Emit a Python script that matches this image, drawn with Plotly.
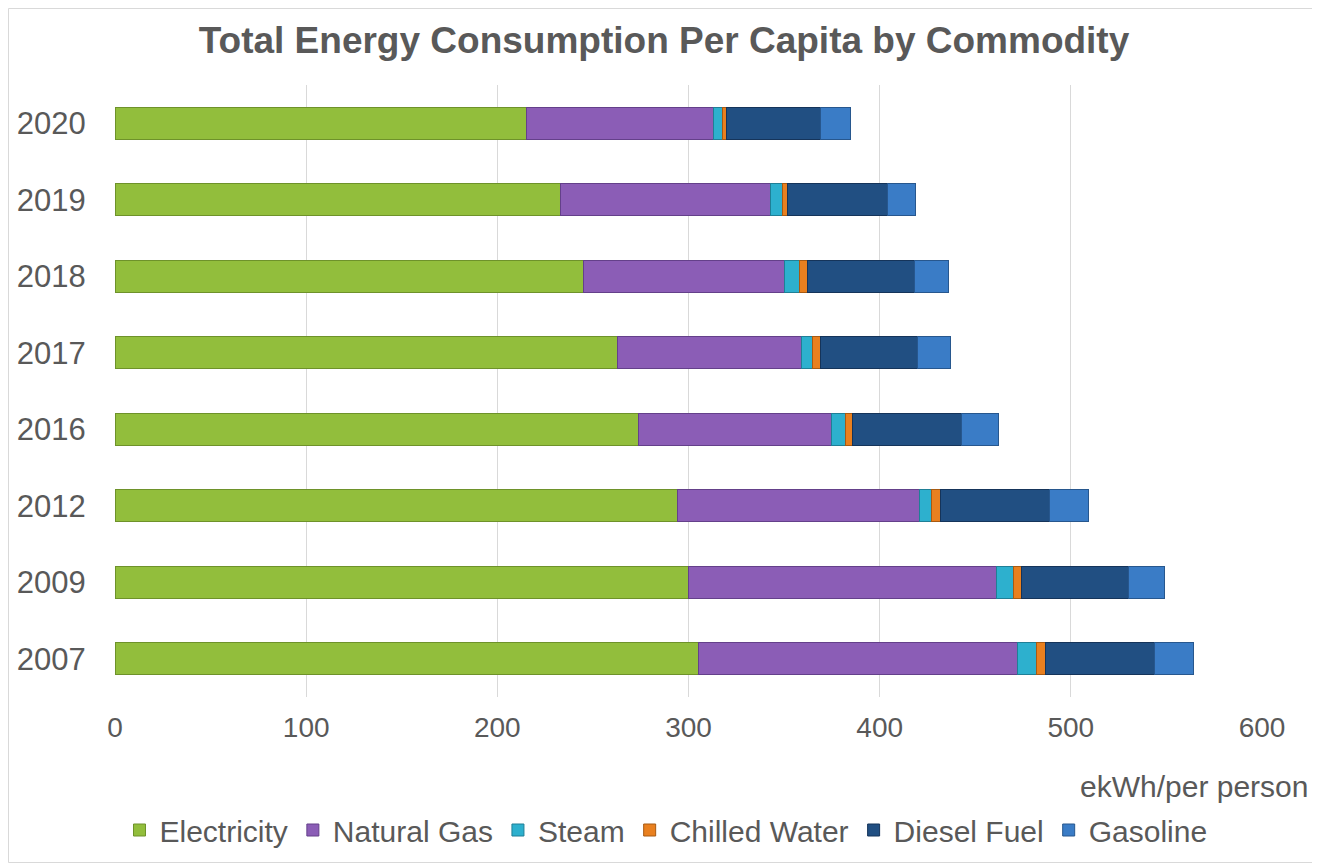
import plotly.graph_objects as go

years = ["2007", "2009", "2012", "2016", "2017", "2018", "2019", "2020"]
electricity = [305, 300, 294, 274, 263, 245, 233, 215]
natural_gas = [167, 161, 127, 101, 96, 105, 110, 98]
steam = [10, 9, 6, 7, 6, 8, 6, 5]
chilled_water = [5, 4, 5, 4, 4, 4, 3, 2]
diesel_fuel = [57, 56, 57, 57, 51, 56, 52, 49]
gasoline = [20, 19, 20, 19, 17, 18, 15, 16]

series = [
    ("Electricity", electricity, "#92BE3C", "#6E922A"),
    ("Natural Gas", natural_gas, "#8B5DB6", "#64408A"),
    ("Steam", steam, "#2DB0CE", "#1F7F96"),
    ("Chilled Water", chilled_water, "#E9801F", "#A85A12"),
    ("Diesel Fuel", diesel_fuel, "#214F82", "#15345A"),
    ("Gasoline", gasoline, "#3A7CC6", "#27578E"),
]

OFF = 8  # page body margin
W, H = 1320 - OFF, 864 - OFF
L, T = 115 - OFF, 85 - OFF
PR, PB = 1262 - OFF, 697 - OFF
R, B = W - PR, H - PB
PW, PH = PR - L, PB - T
FONT = "Liberation Sans, Arial, sans-serif"
GRAY = "#595959"


def py(p):
    return (PB - (p - OFF)) / PH


def px(p):
    return ((p - OFF) - L) / PW


fig = go.Figure()
for name, vals, col, edge in series:
    fig.add_trace(go.Bar(
        y=years, x=vals, name=name, orientation="h",
        marker=dict(color=col, line=dict(color=edge, width=1)),
    ))

fig.update_layout(
    width=W, height=H,
    barmode="stack", bargap=0.58,
    margin=dict(l=L, r=R, t=T, b=B, autoexpand=False),
    paper_bgcolor="white", plot_bgcolor="white",
    font=dict(family=FONT, color=GRAY, size=28),
    title=dict(
        text="<b>Total Energy Consumption Per Capita by Commodity</b>",
        x=0.5, xref="container", xanchor="center",
        y=1 - (40 - OFF) / H, yref="container", yanchor="middle",
        font=dict(family=FONT, size=37, color=GRAY),
    ),
    xaxis=dict(
        range=[0, 600], dtick=100, tick0=0,
        showgrid=True, gridcolor="#D9D9D9", gridwidth=1,
        zeroline=False, showline=False,
        ticks="outside", ticklen=5, tickcolor="rgba(0,0,0,0)",
        tickfont=dict(size=28, color=GRAY, family=FONT),
    ),
    yaxis=dict(
        categoryorder="array", categoryarray=years,
        showgrid=False, zeroline=False, showline=False,
        ticks="outside", ticklen=22, tickcolor="rgba(0,0,0,0)",
        tickfont=dict(size=31, color=GRAY, family=FONT),
    ),
    legend=dict(
        orientation="h", x=px(666), xanchor="center",
        y=py(830), yref="paper", yanchor="middle",
        font=dict(size=30, color=GRAY, family=FONT),
        itemwidth=30, traceorder="normal",
    ),
    showlegend=True,
)

fig.add_annotation(
    text="ekWh/per person", xref="paper", yref="paper",
    x=px(1310), y=py(786),
    xanchor="right", yanchor="middle", showarrow=False,
    font=dict(size=30, color=GRAY, family=FONT),
)

fig.add_shape(
    type="rect", xref="paper", yref="paper",
    x0=(0.5 - L) / PW, x1=(W - 1.5 - L) / PW,
    y0=(PB - (H - 1.5)) / PH, y1=(PB - 0.5) / PH,
    line=dict(color="#D9D9D9", width=1), fillcolor="rgba(0,0,0,0)",
    layer="below",
)

fig.write_html("out.html")
